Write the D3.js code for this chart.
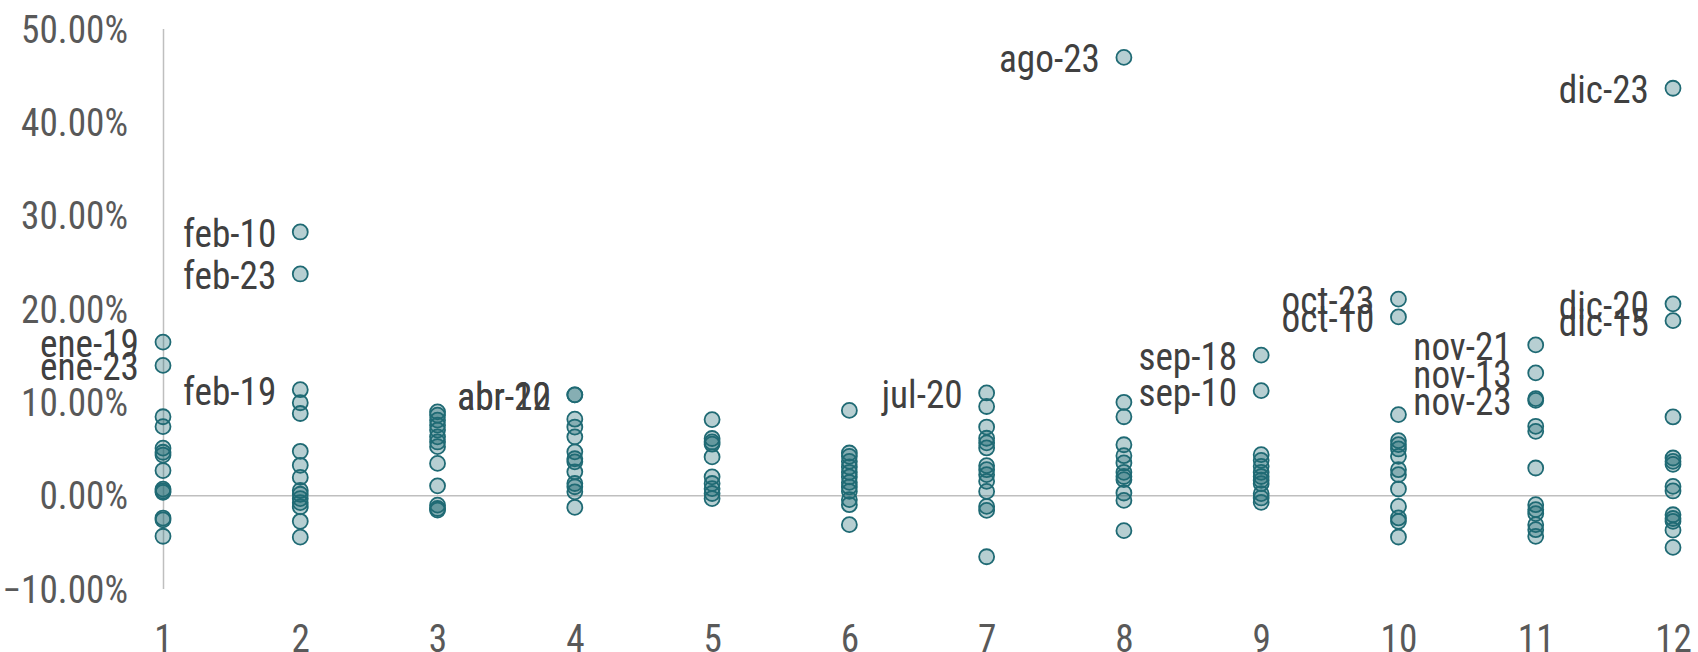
<!DOCTYPE html>
<html lang="es">
<head>
<meta charset="utf-8">
<title>Variaciones mensuales</title>
<script src="https://cdn.jsdelivr.net/npm/d3@7"></script>
<style>
  html, body { margin: 0; padding: 0; background: #fff; }
  svg text { font-family: "Roboto Condensed", Roboto, "Liberation Sans", sans-serif; }
</style>
</head>
<body>
<div id="chart"></div>
<script>
// months on the x axis
var months = [1, 2, 3, 4, 5, 6, 7, 8, 9, 10, 11, 12];

// monthly values (%), one list per month
var m1  = [16.4, 13.9, 8.4, 7.35, 5.04, 4.6, 4.3, 2.64, 0.65, 0.45, 0.3, -2.45, -2.65, -4.4];
var m2  = [28.2, 23.7, 11.3, 9.9, 8.75, 4.7, 3.2, 1.9, 0.5, 0.1, -0.36, -0.8, -1.25, -2.8, -4.5];
var m3  = [8.93, 8.57, 8.04, 7.5, 6.97, 6.25, 5.7, 5.2, 3.4, 1.0, -1.07, -1.43, -1.6];
var m4  = [10.75, 10.75, 8.14, 7.3, 6.25, 4.64, 3.9, 3.57, 2.5, 1.25, 0.9, 0.36, -1.3];
var m5  = [8.1, 6.07, 5.7, 5.46, 4.1, 1.96, 1.25, 0.7, 0.18, -0.36];
var m6  = [9.08, 4.52, 4.16, 3.62, 3.02, 2.45, 1.95, 1.37, 0.88, 0.41, -0.48, -1.02, -3.16];
var m7  = [10.95, 9.5, 7.3, 6.1, 5.6, 5.06, 3.16, 2.73, 2.2, 1.48, 0.4, -1.2, -1.63, -6.6];
var m8  = [46.9, 9.95, 8.4, 5.4, 4.23, 3.45, 2.45, 2.0, 1.66, 0.23, -0.56, -3.8];
var m9  = [15.0, 11.2, 4.34, 3.73, 3.09, 2.45, 2.0, 1.6, 1.23, 0.16, -0.3, -0.77];
var m10 = [21.0, 19.1, 8.63, 5.84, 5.41, 4.95, 4.16, 2.73, 2.2, 0.66, -1.2, -2.44, -2.8, -4.48];
var m11 = [16.1, 13.1, 10.35, 10.15, 7.38, 6.84, 2.91, -1.02, -1.55, -1.98, -3.16, -3.7, -4.41];
var m12 = [43.6, 20.5, 18.7, 8.38, 3.98, 3.62, 3.3, 0.94, 0.45, -2.1, -2.5, -2.8, -3.75, -5.6];
var monthValues = [m1, m2, m3, m4, m5, m6, m7, m8, m9, m10, m11, m12];

// labelled points
var labelMonth = [1, 1, 2, 2, 2, 4, 4, 7, 8, 9, 9, 10, 10, 11, 11, 11, 12, 12, 12];
var labelValue = [16.4, 13.9, 28.2, 23.7, 11.3, 10.75, 10.75, 10.95, 46.9, 15.0, 11.2, 21.0, 19.1, 16.1, 13.1, 10.15, 43.6, 20.5, 18.7];
var labelText  = ["ene-19", "ene-23", "feb-10", "feb-23", "feb-19", "abr-12", "abr-20", "jul-20", "ago-23",
                  "sep-18", "sep-10", "oct-23", "oct-10", "nov-21", "nov-13", "nov-23", "dic-23", "dic-20", "dic-15"];

// y tick values
var yTicks = [-10, 0, 10, 20, 30, 40, 50];

var width = 1698, height = 652;
var fontPx = 38;
var squeeze = 0.98;

var svg = d3.select("#chart").append("svg")
  .attr("width", width)
  .attr("height", height);

var x = d3.scaleLinear().domain([1, 12]).range([163, 1673]);
var y = d3.scaleLinear().domain([-10, 50]).range([588.5, 28.5]);

// y axis
var yAxis = svg.append("g")
  .attr("transform", "translate(" + x(1) + ",0)")
  .call(d3.axisLeft(y).tickValues(yTicks).tickSize(0).tickSizeOuter(0).tickPadding(0)
    .tickFormat(function(d){ return d3.format(".2f")(d) + "%"; }));
yAxis.select(".domain").attr("stroke", "#bfbfbf").attr("stroke-width", 1.5);
yAxis.selectAll("text")
  .attr("x", 0).attr("dy", null)
  .attr("transform", "translate(-35,13.5) scale(" + squeeze + ",1)")
  .attr("fill", "#595959")
  .style("font-size", fontPx + "px");

// x axis on the zero line, labels at the bottom
var xAxis = svg.append("g")
  .attr("transform", "translate(0," + y(0) + ")")
  .call(d3.axisBottom(x).tickValues(months).tickSize(0).tickSizeOuter(0).tickPadding(0)
    .tickFormat(d3.format("d")));
xAxis.select(".domain").attr("stroke", "#bfbfbf").attr("stroke-width", 1.5);
xAxis.selectAll("text")
  .attr("y", 0).attr("dy", null)
  .attr("transform", "translate(0,157) scale(" + squeeze + ",1)")
  .attr("fill", "#595959")
  .style("font-size", fontPx + "px");
svg.selectAll(".domain").attr("fill", "none");

// points
var points = [];
monthValues.forEach(function(vals, i){
  vals.forEach(function(v){ points.push({m: months[i], v: v}); });
});

svg.append("g").selectAll("circle")
  .data(points)
  .enter()
  .append("circle")
  .attr("cx", function(d){ return x(d.m); })
  .attr("cy", function(d){ return y(d.v); })
  .attr("r", 7.5)
  .attr("fill", "#1f6a74")
  .attr("fill-opacity", 0.32)
  .attr("stroke", "#1f6a74")
  .attr("stroke-width", 1.8);

// labels
var labels = labelText.map(function(t, i){ return {m: labelMonth[i], v: labelValue[i], t: t}; });

svg.append("g").selectAll("text")
  .data(labels)
  .enter()
  .append("text")
  .attr("transform", function(d){
    return "translate(" + (x(d.m) - 24) + "," + (y(d.v) + 15) + ") scale(" + squeeze + ",1)";
  })
  .attr("text-anchor", "end")
  .attr("fill", "#404040")
  .style("font-size", fontPx + "px")
  .text(function(d){ return d.t; });
</script>
</body>
</html>
